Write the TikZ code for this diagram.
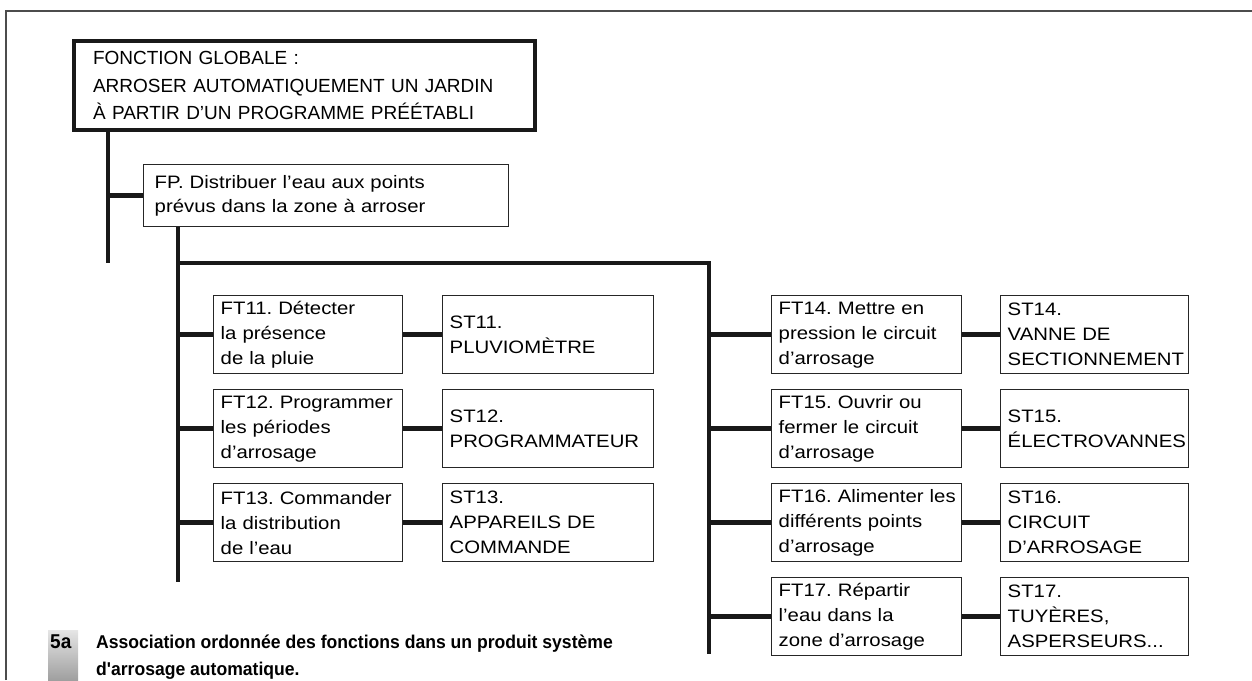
\documentclass[tikz,border=0pt]{standalone}
\usepackage{fontspec}
\setmainfont{Liberation Sans}
\newfontfamily\boxfont[FakeStretch=1.13]{Liberation Sans}
\newfontfamily\capfont[FakeStretch=0.95]{Liberation Sans}
\newfontfamily\topfont{Liberation Sans}
\frenchspacing
\begin{document}
\begin{tikzpicture}[x=1pt,y=-1pt,
  fbox/.style={draw=black!85, line width=1.4pt, anchor=north west, inner xsep=7pt, inner ysep=0pt,
    align=left, font=\boxfont\fontsize{18}{25}\selectfont\frenchspacing, minimum height=78pt},
  lft/.style={fbox, text width=175pt},
  lst/.style={fbox, text width=197pt},
  rft/.style={fbox, text width=176pt},
  rst/.style={fbox, text width=174pt},
  link/.style={line width=4.6pt, black!90},
  frame/.style={line width=1.3pt, black!70},
]
\useasboundingbox (0,0) rectangle (1252,680);
% frame
\draw[frame] (6,680) -- (6,11) -- (1252,11);

% top box
\node[draw=black!90, line width=4pt, anchor=north west, minimum width=461pt, minimum height=89pt,
  inner xsep=19pt, inner ysep=0pt, text width=423pt, align=left,
  font=\topfont\fontsize{19}{27.5}\selectfont] (top) at (72,39)
  {\mbox{FONCTION GLOBALE :}\\\mbox{ARROSER AUTOMATIQUEMENT UN JARDIN}\\\mbox{À PARTIR D’UN PROGRAMME PRÉÉTABLI}};

% FP box
\node[draw=black!85, line width=1.4pt, anchor=north west, minimum height=62pt, inner xsep=11pt,
  inner ysep=0pt, text width=343pt, align=left, font=\boxfont\fontsize{18}{24}\selectfont\frenchspacing] (fp) at (143,164)
  {\mbox{FP. Distribuer l’eau aux points}\\\mbox{prévus dans la zone à arroser}};

% left column
\node[lft] (ft11) at (213,295) {\mbox{FT11. Détecter}\\\mbox{la présence}\\\mbox{de la pluie}};
\node[lst] (st11) at (442,295) {\mbox{ST11.}\\\mbox{PLUVIOMÈTRE}};
\node[lft] (ft12) at (213,389) {\mbox{FT12. Programmer}\\\mbox{les périodes}\\\mbox{d’arrosage}};
\node[lst] (st12) at (442,389) {\mbox{ST12.}\\\mbox{PROGRAMMATEUR}};
\node[lft] (ft13) at (213,483) {\mbox{FT13. Commander}\\\mbox{la distribution}\\\mbox{de l’eau}};
\node[lst] (st13) at (442,483) {\mbox{ST13.}\\\mbox{APPAREILS DE}\\\mbox{COMMANDE}};

% right column
\node[rft] (ft14) at (771,295) {\mbox{FT14. Mettre en}\\\mbox{pression le circuit}\\\mbox{d’arrosage}};
\node[rst] (st14) at (1000,295) {\mbox{ST14.}\\\mbox{VANNE DE}\\\mbox{SECTIONNEMENT}};
\node[rft] (ft15) at (771,389) {\mbox{FT15. Ouvrir ou}\\\mbox{fermer le circuit}\\\mbox{d’arrosage}};
\node[rst] (st15) at (1000,389) {\mbox{ST15.}\\\mbox{ÉLECTROVANNES}};
\node[rft] (ft16) at (771,483) {\mbox{FT16. Alimenter les}\\\mbox{différents points}\\\mbox{d’arrosage}};
\node[rst] (st16) at (1000,483) {\mbox{ST16.}\\\mbox{CIRCUIT}\\\mbox{D’ARROSAGE}};
\node[rft] (ft17) at (771,577) {\mbox{FT17. Répartir}\\\mbox{l’eau dans la}\\\mbox{zone d’arrosage}};
\node[rst] (st17) at (1000,577) {\mbox{ST17.}\\\mbox{TUYÈRES,}\\\mbox{ASPERSEURS...}};

% connectors
\coordinate (a1) at (108,263);
\draw[link] (top.south west -| a1) -- (a1);
\draw[link] (fp.west -| a1) -- (fp.west);
\coordinate (b0) at (178,582);
\coordinate (bl) at (178,263);
\coordinate (br) at (709,263);
\coordinate (bus) at (709,654);
\draw[link] (fp.south west -| b0) -- (b0);
\draw[link, line join=miter] (bl) -- (br) -- (bus);
\foreach \n in {11,12,13}{
  \draw[link] (ft\n.west -| b0) -- (ft\n.west);
  \draw[link] (ft\n.east) -- (st\n.west);
}
\foreach \n in {14,15,16,17}{
  \draw[link] (ft\n.west -| bus) -- (ft\n.west);
  \draw[link] (ft\n.east) -- (st\n.west);
}

% caption
\shade[top color=gray!20, bottom color=gray!75] (48,630) rectangle (78,680);
\node[anchor=base west, inner sep=0pt, font=\capfont\bfseries\fontsize{20}{20}\selectfont] (num) at (50,648) {5a};
\node[anchor=base west, inner sep=0pt, font=\capfont\bfseries\fontsize{18.5}{27}\selectfont] (cap1) at (96,648)
  {Association ordonnée des fonctions dans un produit système};
\node[anchor=base west, inner sep=0pt, font=\capfont\bfseries\fontsize{18.5}{27}\selectfont] (cap2) at (96,675)
  {d'arrosage automatique.};
\end{tikzpicture}
\end{document}
